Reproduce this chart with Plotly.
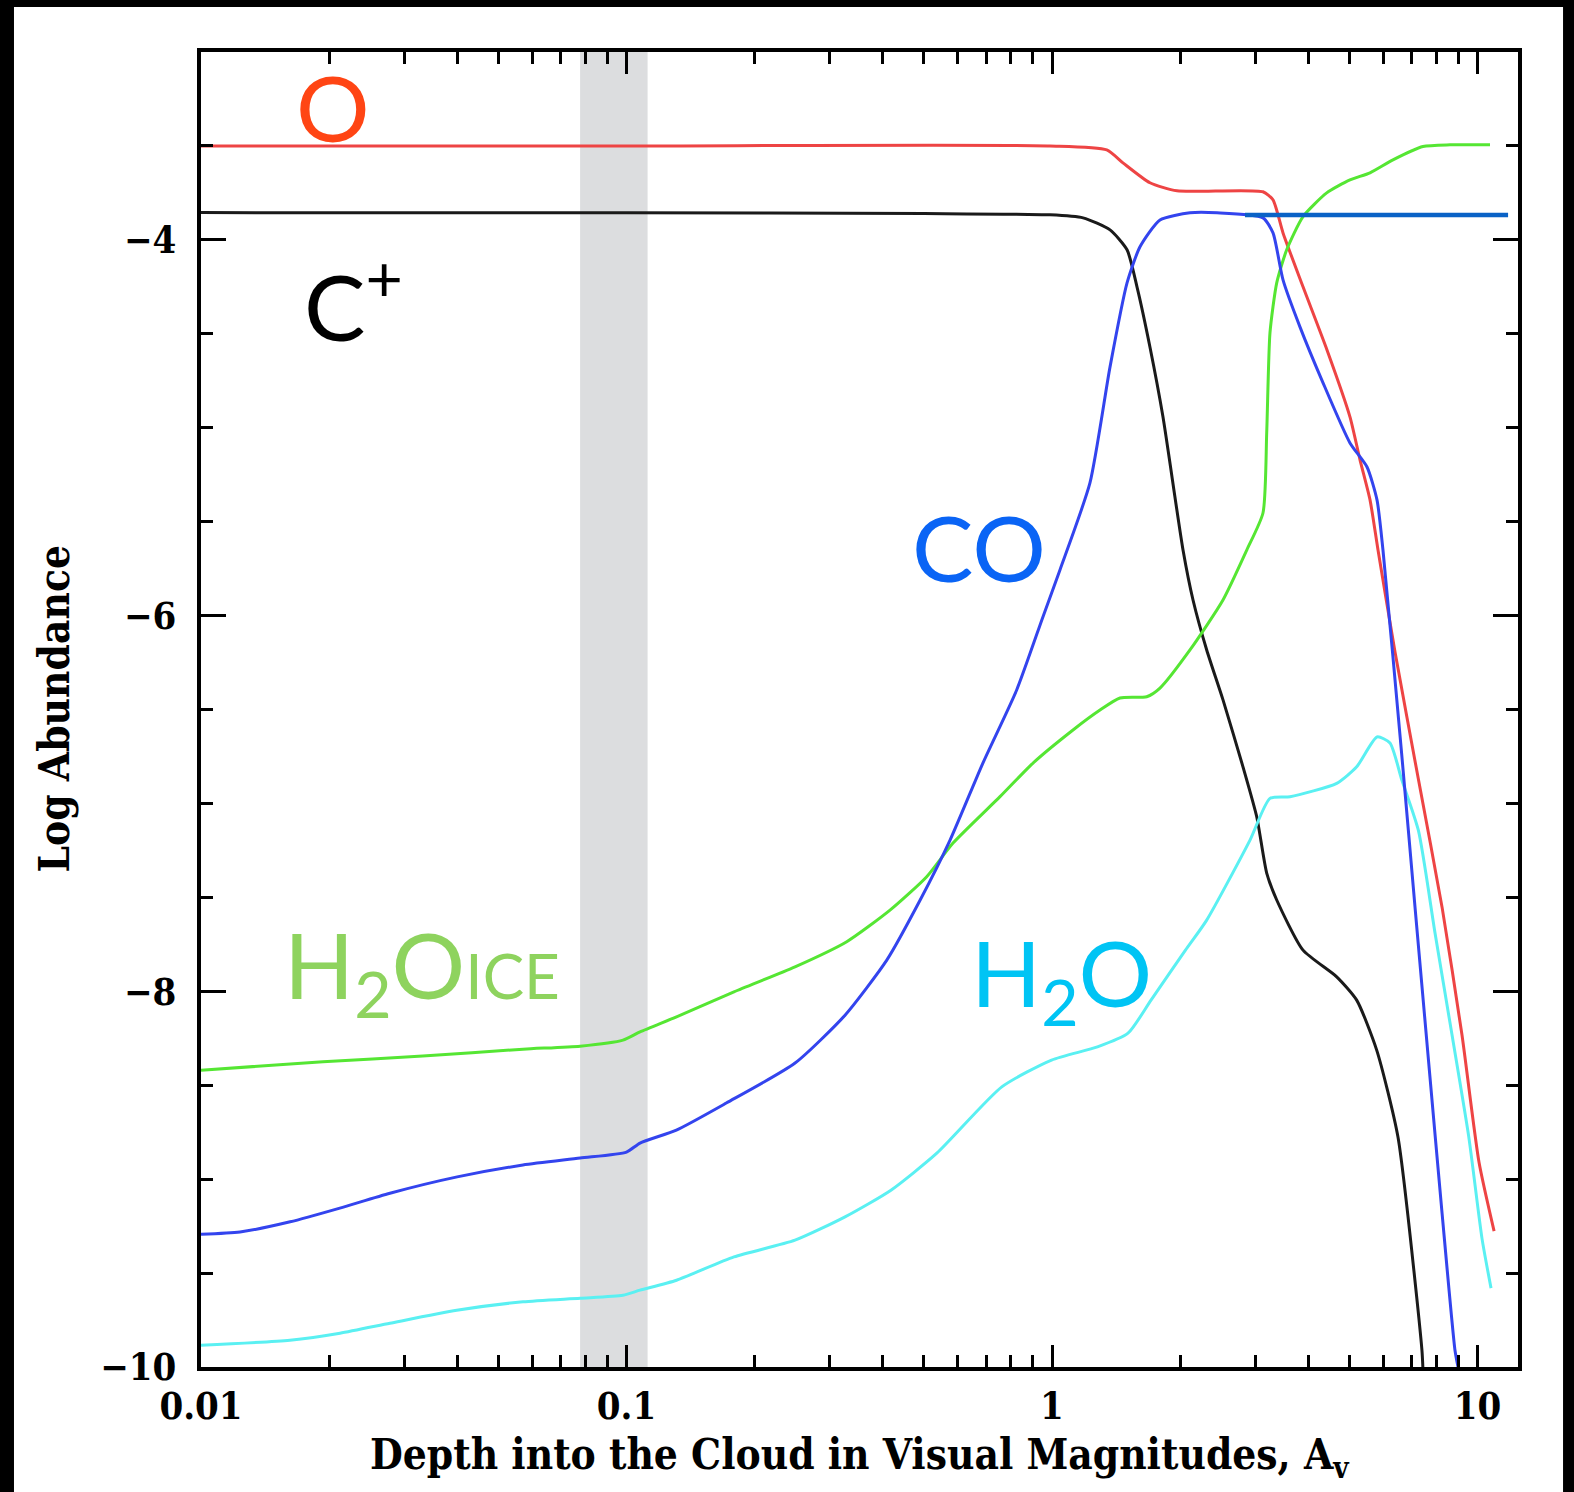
import math
import plotly.graph_objects as go

# ---------------- data ----------------
o_x = [0.01, 0.1, 0.989, 1.345, 1.468, 1.699, 1.967, 3.132, 3.307, 3.491, 3.89, 4.429,
       5.015, 5.295, 5.59, 5.837, 6.4, 7.265, 8.255, 9.196, 10.08, 10.94]
o_y = [-3.5, -3.5, -3.5, -3.521, -3.59, -3.696, -3.739, -3.744, -3.787, -3.963, -4.25, -4.586,
       -4.942, -5.171, -5.384, -5.651, -6.194, -6.873, -7.552, -8.233, -8.909, -9.277]

cplus_x = [0.01, 0.1, 0.5, 0.989, 1.183, 1.369, 1.501, 1.584, 1.699, 1.823, 2.032, 2.145,
           2.31, 2.523, 2.811, 3.028, 3.196, 3.374, 3.89, 4.668, 5.201, 5.796, 6.503, 7.404, 7.44]
cplus_y = [-3.855, -3.856, -3.86, -3.867, -3.883, -3.947, -4.053, -4.25, -4.57, -4.942, -5.651, -5.917,
           -6.183, -6.449, -6.805, -7.071, -7.371, -7.514, -7.781, -7.923, -8.047, -8.313, -8.776, -9.911, -10.0]

co_x = [0.01, 0.01235, 0.0162, 0.0212, 0.0278, 0.04, 0.0571, 0.0778, 0.1, 0.1076, 0.131, 0.1716,
        0.249, 0.3263, 0.409, 0.49, 0.576, 0.688, 0.826, 0.952, 1.044, 1.228, 1.369, 1.501, 1.61,
        1.794, 2.11, 2.443, 3.132, 3.307, 3.491, 3.826, 4.335, 5.015, 5.5, 5.805, 5.996, 6.635,
        7.131, 7.67, 8.255, 8.853, 9.0]
co_y = [-9.293, -9.281, -9.227, -9.154, -9.075, -8.988, -8.925, -8.888, -8.856, -8.808, -8.739, -8.595,
        -8.382, -8.127, -7.834, -7.514, -7.195, -6.785, -6.396, -6.007, -5.757, -5.294, -4.676, -4.229, -4.037,
        -3.894, -3.856, -3.856, -3.883, -3.963, -4.213, -4.463, -4.761, -5.081, -5.209, -5.384, -5.651, -6.737,
        -7.552, -8.366, -9.181, -9.911, -10.0]

ice_x = [0.01, 0.01935, 0.0332, 0.0571, 0.0778, 0.0981, 0.1076, 0.1311, 0.1789, 0.2489, 0.3293, 0.4162,
         0.5076, 0.5853, 0.7547, 0.9025, 1.1205, 1.2967, 1.4446, 1.6696, 1.794, 2.11, 2.5226, 2.8693,
         3.132, 3.196, 3.253, 3.374, 3.561, 3.89, 4.422, 5.015, 5.59, 6.329, 7.443, 8.619, 10.7]
ice_y = [-8.42, -8.375, -8.345, -8.308, -8.292, -8.26, -8.216, -8.136, -8.003, -7.87, -7.736, -7.568,
         -7.39, -7.211, -6.964, -6.785, -6.609, -6.503, -6.439, -6.432, -6.386, -6.183, -5.917, -5.651,
         -5.454, -5.028, -4.495, -4.229, -4.053, -3.876, -3.75, -3.681, -3.643, -3.574, -3.503, -3.494, -3.494]

h2o_x = [0.01, 0.01618, 0.02122, 0.0278, 0.0399, 0.0571, 0.0778, 0.0981, 0.1076, 0.1311, 0.1789, 0.2489,
         0.3263, 0.4183, 0.5362, 0.7621, 0.9977, 1.279, 1.509, 1.709, 2.059, 2.31, 2.92, 3.253, 3.625,
         4.668, 5.201, 5.805, 6.228, 6.635, 7.265, 7.945, 8.712, 9.539, 10.25, 10.76]
h2o_y = [-9.884, -9.857, -9.82, -9.767, -9.698, -9.653, -9.634, -9.618, -9.591, -9.538, -9.414, -9.325,
         -9.201, -9.059, -8.862, -8.509, -8.366, -8.296, -8.223, -8.047, -7.781, -7.621, -7.195, -6.973, -6.964,
         -6.893, -6.805, -6.646, -6.678, -6.873, -7.145, -7.688, -8.232, -8.775, -9.318, -9.58]

marker_line_x = [2.842, 11.8]
marker_line_y = [-3.868, -3.868]

band_x = [0.0778, 0.1121]

x_tickvals = [0.01, 0.1, 1, 10]
x_ticktext = ["0.01", "0.1", "1", "10"]
y_tickvals = [-10, -8, -6, -4]
y_ticktext = ["\u221210", "\u22128", "\u22126", "\u22124"]

# species labels: (text, x, y, colour)
labels = [
    ("O", 0.0204, -3.29, "#ff4514"),
    ("C<sup>+</sup>", 0.0228, -4.32, "#000000"),
    ("CO", 0.674, -5.63, "#0a64f5"),
    ("H<sub>2</sub>O<span style='font-size:62px'>ICE</span>", 0.033, -7.887, "#8ed35e"),
    ("H<sub>2</sub>O", 1.053, -7.93, "#00c4f4"),
]

# ---------------- figure ----------------
fig = go.Figure()

series = [
    (o_x, o_y, "#ee4444"),
    (cplus_x, cplus_y, "#1a1a1a"),
    (ice_x, ice_y, "#55e633"),
    (h2o_x, h2o_y, "#5af0f2"),
    (co_x, co_y, "#3344ee"),
]
for xs, ys, col in series:
    fig.add_trace(go.Scatter(x=xs, y=ys, mode="lines",
                             line=dict(color=col, width=3, shape="spline", smoothing=0.6),
                             showlegend=False, hoverinfo="skip"))

fig.add_trace(go.Scatter(x=marker_line_x, y=marker_line_y, mode="lines",
                         line=dict(color="#0a62c6", width=4.5), showlegend=False, hoverinfo="skip"))

# grey band
fig.add_shape(type="rect", xref="x", yref="paper", x0=band_x[0], x1=band_x[1], y0=0, y1=1,
              fillcolor="#dcdddf", line=dict(width=0), layer="below")

# black frame around the picture (top, left, right)
for x0, x1, y0, y1 in [(-0.3, 1.3, 1.0342, 1.3), (-0.3, -0.1420, -0.3, 1.3), (1.0342, 1.3, -0.3, 1.3)]:
    fig.add_shape(type="rect", xref="paper", yref="paper", x0=x0, x1=x1, y0=y0, y1=y1,
                  fillcolor="black", line=dict(width=0), layer="above")

tick_font = dict(family="DejaVu Serif Condensed, DejaVu Serif, serif", size=38, color="black", weight="bold")

fig.update_xaxes(type="log", range=[-2, 1.0952],
                 tickmode="array", tickvals=x_tickvals, ticktext=x_ticktext,
                 ticks="inside", ticklen=22, tickwidth=3, tickcolor="black",
                 minor=dict(ticks="inside", ticklen=12, tickwidth=3, tickcolor="black", dtick="D1", showgrid=False),
                 showline=True, linewidth=4, linecolor="black", mirror="allticks",
                 showgrid=False, zeroline=False, tickfont=tick_font, ticklabelstandoff=2)
fig.update_yaxes(range=[-10, -3],
                 tickmode="array", tickvals=y_tickvals, ticktext=y_ticktext,
                 ticks="inside", ticklen=25, tickwidth=3, tickcolor="black",
                 minor=dict(ticks="inside", ticklen=12, tickwidth=3, tickcolor="black", dtick=0.5, showgrid=False),
                 showline=True, linewidth=4, linecolor="black", mirror="allticks",
                 showgrid=False, zeroline=False, tickfont=tick_font, ticklabelstandoff=13)

title_font = dict(family="DejaVu Serif Condensed, DejaVu Serif, serif", size=42, color="black", weight="bold")
fig.add_annotation(text="Depth into the Cloud in Visual Magnitudes, A<sub>v</sub>",
                   xref="paper", yref="paper", x=0.5, y=-0.069, xanchor="center", yanchor="middle",
                   showarrow=False, font=title_font)
fig.add_annotation(text="Log Abundance", xref="paper", yref="paper", x=-0.1116, y=0.5,
                   xanchor="center", yanchor="middle", textangle=-90, showarrow=False, font=title_font)

for txt, lx, ly, col in labels:
    fig.add_annotation(text=txt, x=math.log10(lx), y=ly, xref="x", yref="y",
                       xanchor="center", yanchor="middle", showarrow=False,
                       font=dict(family="Lato, Open Sans, sans-serif", size=92, color=col))

fig.update_layout(width=1574, height=1492,
                  margin=dict(l=201, r=56, t=52, b=125, autoexpand=False),
                  paper_bgcolor="white", plot_bgcolor="white")

fig.write_html("out.html", config={"displayModeBar": False},
               post_script="document.body.style.margin='0';document.body.style.overflow='hidden';")
